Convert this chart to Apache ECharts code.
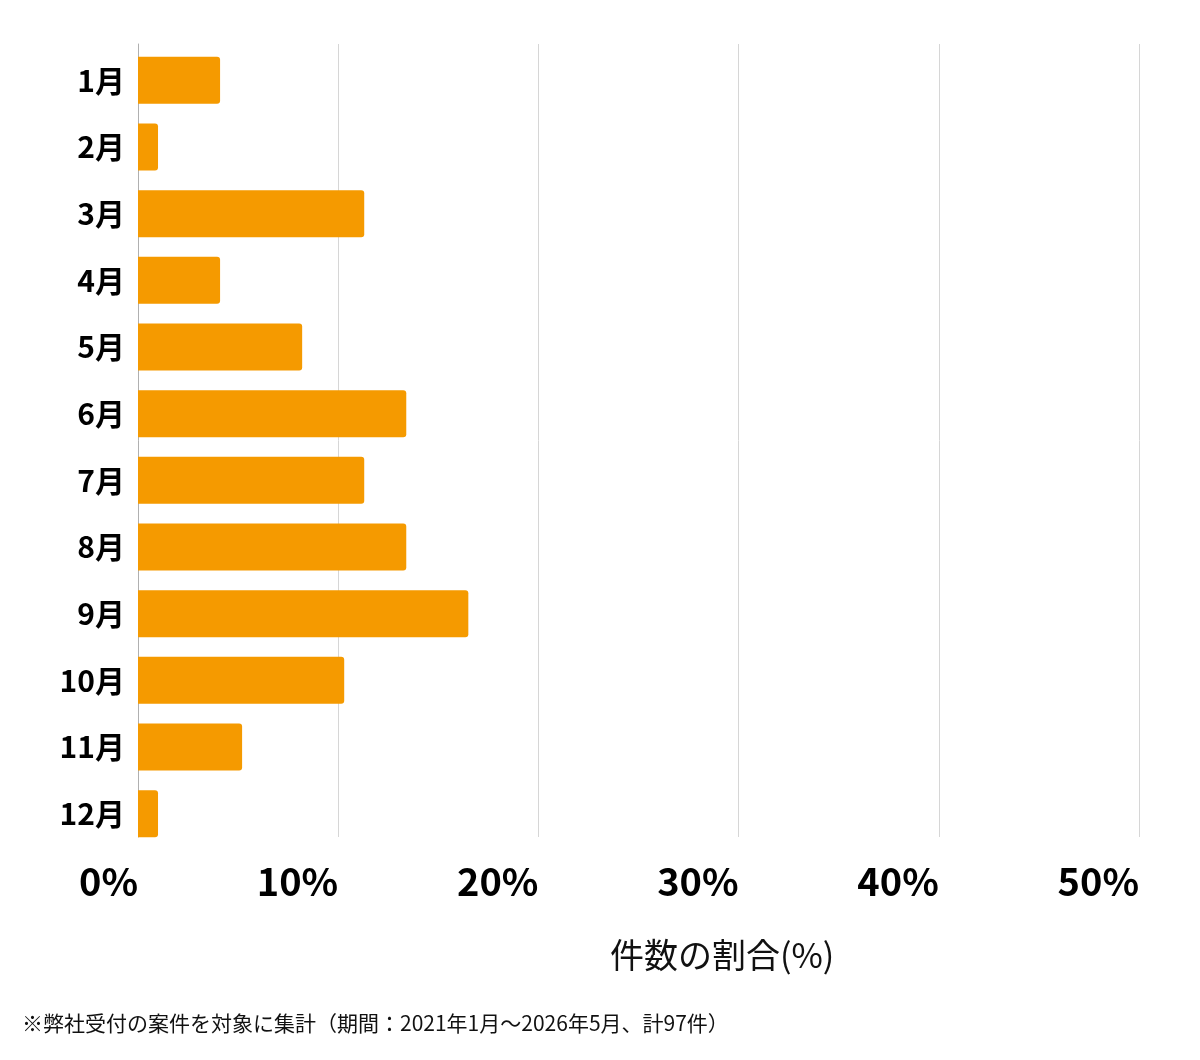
<!DOCTYPE html>
<html lang="ja">
<head>
    <meta charset="UTF-8">
    <title>月別の件数の割合</title>
    <script src="https://cdn.jsdelivr.net/npm/echarts@6/dist/echarts.min.js"></script>
    <style>
        html, body { margin: 0; padding: 0; background: #fff; }
        #chart { width: 1200px; height: 1060px; }
    </style>
</head>
<body>
<div id="chart"></div>
<script>
    // 月と割合(%)
    var months = ['1月', '2月', '3月', '4月', '5月', '6月', '7月', '8月', '9月', '10月', '11月', '12月'];
    var ratio = [4.1, 1.0, 11.3, 4.1, 8.2, 13.4, 11.3, 13.4, 16.5, 10.3, 5.2, 1.0];
    var xTicks = ['0%', '10%', '20%', '30%', '40%', '50%'];
    var axisTitle = '件数の割合(%)';
    var note = '※弊社受付の案件を対象に集計（期間：2021年1月〜2026年5月、計97件）';

    var font = '"Noto Sans CJK JP", "Noto Sans", sans-serif';
    var myChart = echarts.init(document.getElementById('chart'));
    // grid 0: 目盛と縦線, grid 1: 棒と月ラベル（少し下にずれている）
    var option = {
        animation: false,
        grid: [
            { left: 138, right: 61, top: 44, bottom: 223 },
            { left: 138, right: 61, top: 47, bottom: 213 }
        ],
        xAxis: [{
            type: 'value',
            gridIndex: 0,
            min: 0,
            max: 50,
            interval: 10,
            axisLine: { show: false },
            axisTick: { show: false },
            splitLine: { lineStyle: { color: '#d6d6d6', width: 1 } },
            axisLabel: {
                margin: 26,
                align: 'right',
                fontFamily: font,
                fontWeight: 'bold',
                fontSize: 38,
                color: '#000',
                formatter: function (v) { return xTicks[v / 10]; }
            }
        }, {
            type: 'value',
            gridIndex: 1,
            min: 0,
            max: 50,
            show: false
        }],
        yAxis: [{
            type: 'category',
            gridIndex: 0,
            inverse: true,
            data: months,
            axisLine: { show: true, lineStyle: { color: '#b0b0b0', width: 1 } },
            axisTick: { show: false },
            axisLabel: { show: false }
        }, {
            type: 'category',
            gridIndex: 1,
            inverse: true,
            data: months,
            axisLine: { show: false },
            axisTick: { show: false },
            axisLabel: {
                margin: 13,
                fontFamily: font,
                fontWeight: 'bold',
                fontSize: 30,
                color: '#000'
            }
        }],
        series: [{
            type: 'bar',
            xAxisIndex: 1,
            yAxisIndex: 1,
            data: ratio,
            barCategoryGap: '29.5%',
            itemStyle: { color: '#f59a00', borderRadius: [0, 3, 3, 0] }
        }],
        graphic: [
            {
                type: 'text',
                left: 610,
                top: 938,
                style: { text: axisTitle, font: '34px ' + font, fill: '#111' }
            },
            {
                type: 'text',
                left: 22,
                top: 1013,
                style: { text: note, font: '21px ' + font, fill: '#111' }
            }
        ]
    };
    myChart.setOption(option);
</script>
</body>
</html>
